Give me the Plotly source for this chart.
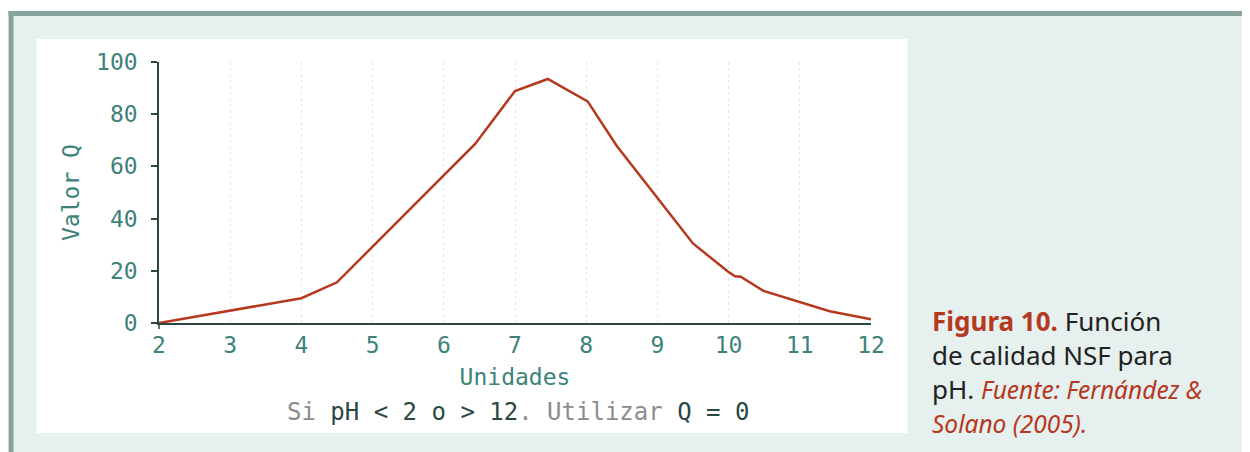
import plotly.graph_objects as go

# Data
ph_values = [2, 4, 4.5, 6.44, 7, 7.46, 8.02, 8.43, 9.5, 9.99, 10.09, 10.17, 10.49, 11.42, 12]
q_values = [0, 9.5, 15.6, 68.6, 88.9, 93.5, 84.9, 67.8, 30.5, 19.7, 17.9, 17.7, 12.3, 4.5, 1.4]
x_ticks = [2, 3, 4, 5, 6, 7, 8, 9, 10, 11, 12]
y_ticks = [0, 20, 40, 60, 80, 100]

W, H = 1250, 452
OFF = 8  # page body margin
# plot area in window pixels
PX0, PX1, PY0, PY1 = 159.3, 870.7, 62, 323
L = PX0 - OFF
T = PY0 - OFF
PW = PX1 - PX0
PH = PY1 - PY0
R = W - L - PW
B = H - T - PH


def px(wx):
    return (wx - PX0) / PW


def py(wy):
    return (PY1 - wy) / PH


TEAL = "#3e827a"
DARK = "#2b4744"
RED = "#b5381f"
BG = "#e6f0ee"
BORDER = "#86a39e"
MONO = "DejaVu Sans Mono"
SANS = "Noto Sans"
FS = 23

fig = go.Figure()
fig.add_trace(go.Scatter(x=ph_values, y=q_values, mode="lines",
                         line=dict(color=RED, width=2.5), hoverinfo="skip",
                         showlegend=False))

shapes = []


def rect(x0, y0, x1, y1, color):
    shapes.append(dict(type="rect", xref="paper", yref="paper",
                       x0=px(x0), x1=px(x1), y0=py(y1), y1=py(y0),
                       fillcolor=color, line=dict(width=0), layer="below"))


rect(14, 16, W + 20, H + 20, BG)
rect(9, 11, W + 20, 16, BORDER)
rect(9, 11, 14, H + 20, BORDER)
rect(37, 39, 907, 433, "white")
# y-axis line extension below the x axis
shapes.append(dict(type="line", xref="paper", yref="paper",
                   x0=0, x1=0, y0=0, y1=py(PY1 + 6),
                   line=dict(color=DARK, width=1.5), layer="above"))

annotations = [
    dict(xref="paper", yref="paper", x=px(518), y=py(412), xanchor="center",
         yanchor="middle", showarrow=False,
         font=dict(family=MONO, size=24, color=DARK),
         text="<span style='color:#8c8c8c'>Si</span> pH &lt; 2 o &gt; 12"
              "<span style='color:#8c8c8c'>. Utilizar</span> Q = 0"),
]

ITAL = f"color:{RED};font-size:24.5px"
cap_lines = [
    f"<b><span style='color:{RED}'>Figura 10.</span></b> Función",
    "de calidad NSF para",
    f"pH. <i><span style='{ITAL}'>Fuente: Fernández &amp;</span></i>",
    f"<i><span style='{ITAL}'>Solano (2005).</span></i>",
]
for i, t in enumerate(cap_lines):
    annotations.append(dict(xref="paper", yref="paper", x=px(930), y=py(321 + 34 * i),
                            xanchor="left", yanchor="middle", showarrow=False,
                            align="left", text=t,
                            font=dict(family=SANS, size=26, color="#222222")))

fig.update_layout(
    width=W, height=H,
    margin=dict(l=L, r=R, t=T, b=B, pad=0),
    paper_bgcolor="white", plot_bgcolor="white",
    shapes=shapes, annotations=annotations,
    xaxis=dict(range=[2, 12], tickvals=x_ticks, showgrid=True, gridcolor="#e6e6e6",
               griddash="3px,3px", gridwidth=1, zeroline=False, showline=True,
               linecolor=DARK, linewidth=1.5, ticks="",
               tickfont=dict(family=MONO, size=FS, color=TEAL),
               ticklabelstandoff=1,
               title=dict(text="Unidades", font=dict(family=MONO, size=FS, color=TEAL),
                          standoff=12)),
    yaxis=dict(range=[0, 100], tickvals=y_ticks, showgrid=False, zeroline=False,
               showline=True, linecolor=DARK, linewidth=1.5, ticks="outside",
               ticklen=6, tickcolor=DARK, tickwidth=1.5,
               tickfont=dict(family=MONO, size=FS, color=TEAL),
               ticklabelstandoff=9,
               title=dict(text="Valor Q", font=dict(family=MONO, size=FS, color=TEAL),
                          standoff=10)),
)

fig.write_html("out.html")
